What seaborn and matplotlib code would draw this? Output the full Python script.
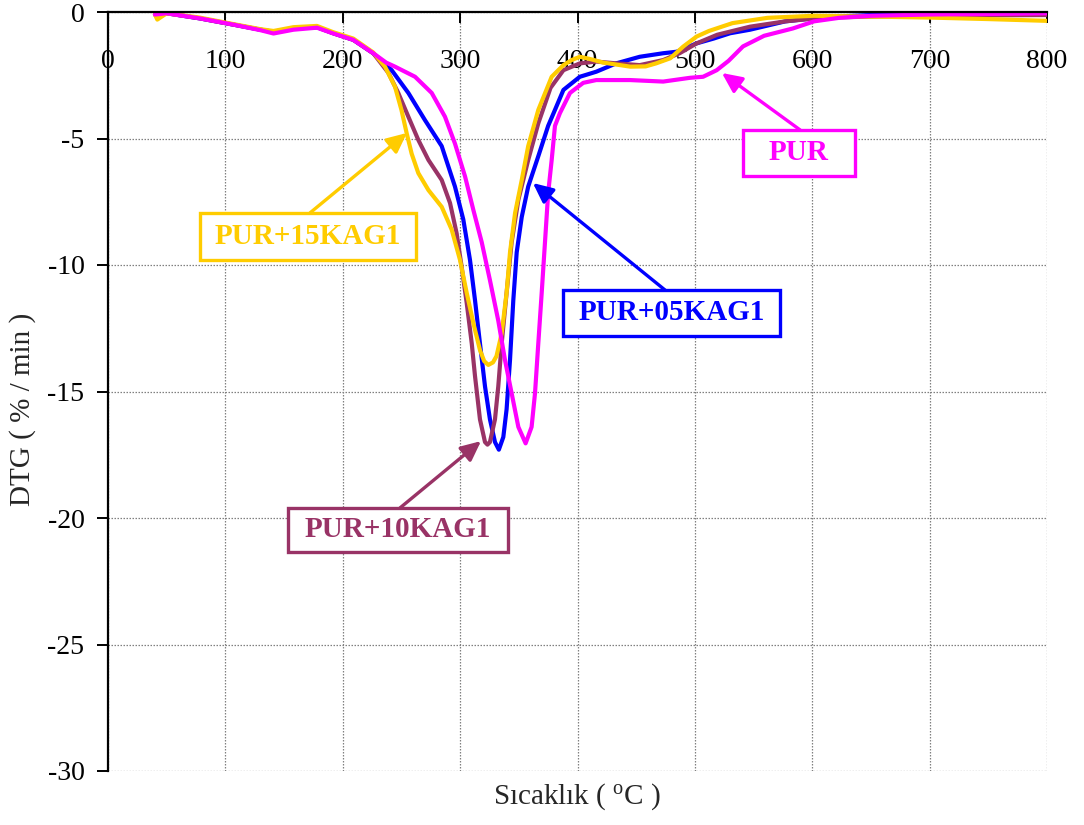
import numpy as np
import pandas as pd
import matplotlib
matplotlib.use("Agg")
import matplotlib.pyplot as plt
from matplotlib.patches import Rectangle
import seaborn as sns

# DTG curves (% / min) versus temperature (°C)
pur_x = [40, 50, 78, 107, 130, 141, 158, 178, 192, 209, 226, 237, 244.5, 261.6,
         275.8, 287.1, 295.6, 304.2, 311.3, 318.4, 325.4, 332.5, 338.2, 343.9, 349.6,
         355.8, 360.9, 363.8, 366.6, 369.5, 372.3, 375, 378, 380.8, 385, 393.6, 404.9,
         416, 444.7, 473, 496, 507, 518.6, 528.7, 541, 559, 583.5, 601.5, 623, 650,
         700, 750, 800]
pur_y = [-0.1, -0.05, -0.25, -0.5, -0.72, -0.85, -0.7, -0.62, -0.85, -1.1, -1.63,
         -2.0, -2.16, -2.56, -3.2, -4.14, -5.2, -6.5, -7.83, -9.1, -10.6, -12.2,
         -13.75, -15.07, -16.4, -17.05, -16.4, -15.07, -13.1, -11.1, -9.1, -7.16,
         -5.85, -4.5, -4.0, -3.2, -2.8, -2.69, -2.69, -2.75, -2.6, -2.56, -2.3, -1.93,
         -1.36, -0.94, -0.65, -0.37, -0.23, -0.15, -0.1, -0.08, -0.05]

kag05_x = [40, 50, 78, 107, 130, 141, 158, 178, 192, 209, 226, 241.7, 255.9, 270,
           284.3, 295.6, 302.7, 308.4, 312.7, 316.9, 321.2, 325.4, 329.7, 333, 336.8,
           339.6, 342.5, 345.3, 348.2, 352.5, 358, 366.6, 375, 380.8, 388, 402, 416,
           433, 453, 473, 484.5, 501.5, 516, 530, 547, 577, 610, 650, 700, 750, 800]
kag05_y = [-0.1, -0.05, -0.25, -0.5, -0.7, -0.78, -0.65, -0.6, -0.84, -1.1, -1.63,
           -2.3, -3.2, -4.27, -5.3, -6.9, -8.2, -9.8, -11.4, -13.1, -14.8, -16.1,
           -17.0, -17.3, -16.8, -15.7, -13.75, -11.4, -9.5, -8.1, -6.9, -5.7, -4.5,
           -3.87, -3.08, -2.56, -2.36, -2.03, -1.77, -1.63, -1.57, -1.24, -1.05, -0.84,
           -0.7, -0.37, -0.2, -0.12, -0.1, -0.1, -0.1]

kag10_x = [40, 50, 78, 107, 130, 141, 158, 178, 192, 209, 226, 238.8, 247.3, 255.9,
           264.4, 273, 284.3, 291.4, 297, 301.3, 305.6, 309.9, 312.7, 316.9, 321.2,
           323.3, 325.4, 329.7, 332.5, 335.4, 339.6, 343.9, 349.6, 358, 366.6, 377,
           388, 402, 416, 433, 453, 473, 487, 501.5, 519, 547, 577, 608, 650, 700, 750,
           800]
kag10_y = [-0.1, -0.05, -0.25, -0.5, -0.7, -0.78, -0.65, -0.6, -0.84, -1.1, -1.63,
           -2.4, -3.2, -4.14, -5.06, -5.85, -6.64, -7.55, -8.74, -10.07, -11.5, -13.1,
           -14.4, -16.1, -17.0, -17.1, -17.0, -16.1, -14.8, -13.1, -11.1, -9.1, -7.43,
           -5.85, -4.4, -3.0, -2.3, -2.03, -1.96, -2.03, -2.1, -1.9, -1.63, -1.24,
           -0.9, -0.58, -0.37, -0.23, -0.18, -0.15, -0.13, -0.12]

kag15_x = [40, 42, 50, 78, 107, 130, 141, 158, 178, 192, 209, 226, 236, 244.5, 250,
           254.5, 258.7, 264.4, 273, 284.3, 292.8, 299.9, 305.6, 311.3, 316.9, 320.5,
           324, 328, 331, 335.4, 339.6, 342.5, 346.8, 352.5, 358, 366.6, 378, 388, 395,
           402, 410, 422, 445, 458, 467, 479, 490, 501.5, 512, 532, 562, 601, 650, 700,
           750, 800]
kag15_y = [-0.1, -0.3, -0.05, -0.22, -0.48, -0.68, -0.75, -0.6, -0.55, -0.8, -1.05,
           -1.6, -2.16, -2.95, -3.87, -4.8, -5.6, -6.37, -7.04, -7.7, -8.6, -9.8,
           -11.1, -12.3, -13.36, -13.8, -13.95, -13.85, -13.6, -12.7, -11.1, -9.5,
           -7.95, -6.64, -5.3, -3.87, -2.56, -2.1, -1.9, -1.77, -1.85, -2.0, -2.16,
           -2.15, -2.03, -1.83, -1.37, -0.97, -0.75, -0.44, -0.23, -0.15, -0.18, -0.22,
           -0.28, -0.35]

series_names = ["PUR+05KAG1", "PUR+10KAG1", "PUR+15KAG1", "PUR"]
series_x = [kag05_x, kag10_x, kag15_x, pur_x]
series_y = [kag05_y, kag10_y, kag15_y, pur_y]
colors = {"PUR": "#FF00FF", "PUR+05KAG1": "#0000FF",
          "PUR+10KAG1": "#993366", "PUR+15KAG1": "#FFCC00"}

x_ticks = [0, 100, 200, 300, 400, 500, 600, 700, 800]
y_ticks = [0, -5, -10, -15, -20, -25, -30]

frames = [pd.DataFrame({"T": x, "DTG": y, "Numune": n})
          for n, x, y in zip(series_names, series_x, series_y)]
df = pd.concat(frames, ignore_index=True)

sns.set_style("white")
plt.rcParams["font.family"] = ["Liberation Serif", "DejaVu Serif"]
plt.rcParams["axes.unicode_minus"] = False
plt.rcParams["mathtext.fontset"] = "custom"
plt.rcParams["mathtext.rm"] = "Liberation Serif"

fig = plt.figure(figsize=(10.84, 8.25), dpi=100)
ax = fig.add_axes([108 / 1084, 1 - 771 / 825, (1047 - 108) / 1084, (771 - 12) / 825])

sns.lineplot(data=df, x="T", y="DTG", hue="Numune", hue_order=series_names,
             palette=colors, estimator=None, sort=False, linewidth=3.0,
             legend=False, ax=ax)

ax.set_xlim(0, 800)
ax.set_ylim(-30, 0)
ax.set_xticks(x_ticks)
ax.set_yticks(y_ticks)
ax.set_xticklabels([str(v) for v in x_ticks])
ax.set_yticklabels([str(v) for v in y_ticks])

# dotted grid
ax.grid(True, color="#808080", linestyle=(0, (1.2, 1.2)), linewidth=0.9)
ax.set_axisbelow(True)

# x axis crosses at DTG = 0
for side in ("top", "right"):
    ax.spines[side].set_visible(False)
ax.spines["bottom"].set_position(("data", 0))
ax.spines["bottom"].set_color("black")
ax.spines["bottom"].set_linewidth(1.6)
ax.spines["left"].set_color("black")
ax.spines["left"].set_linewidth(1.6)
ax.spines["bottom"].set_zorder(5)

ax.tick_params(axis="x", direction="out", length=8, width=1.4, pad=19,
               labelsize=20, colors="black", bottom=True)
ax.tick_params(axis="y", direction="out", length=8, width=1.4, pad=9,
               labelsize=20, colors="black", left=True)

ax.set_xlabel(r"Sıcaklık ( $\mathregular{^o}$C )", fontsize=21)
ax.xaxis.set_label_coords(0.5, -0.014)
ax.set_ylabel("DTG ( % / min )", fontsize=21)
ax.yaxis.set_label_coords(-0.077, 0.476)

# callout boxes: (label, box x0, x1, y_top, y_bottom, arrow start, arrow tip)
callouts = [
    ("PUR+15KAG1", 78.4, 262.4, -7.94, -9.8, (172.1, -7.94), (254.7, -4.78)),
    ("PUR+05KAG1", 387.6, 572.5, -10.99, -12.8, (474.6, -10.99), (362.0, -6.76)),
    ("PUR", 541.0, 636.4, -4.66, -6.48, (589.6, -4.66), (523.0, -2.41)),
    ("PUR+10KAG1", 153.4, 340.8, -19.6, -21.34, (248.8, -19.6), (317.8, -16.96)),
]
for name, x0, x1, ytop, ybot, start, tip in callouts:
    c = colors[name]
    ax.add_patch(Rectangle((x0, ybot), x1 - x0, ytop - ybot, facecolor="white",
                           edgecolor=c, linewidth=2.4, zorder=9))
    ax.text((x0 + x1) / 2, (ytop + ybot) / 2, name, ha="center", va="center",
            fontsize=21, fontweight="bold", color=c, zorder=10)
    ax.annotate("", xy=tip, xytext=start, textcoords="data",
                arrowprops=dict(arrowstyle="-|>,head_length=0.6,head_width=0.28",
                                mutation_scale=20, color=c, lw=2.4,
                                shrinkA=0, shrinkB=0),
                zorder=10)

fig.savefig("out.png", dpi=100, facecolor="white")
